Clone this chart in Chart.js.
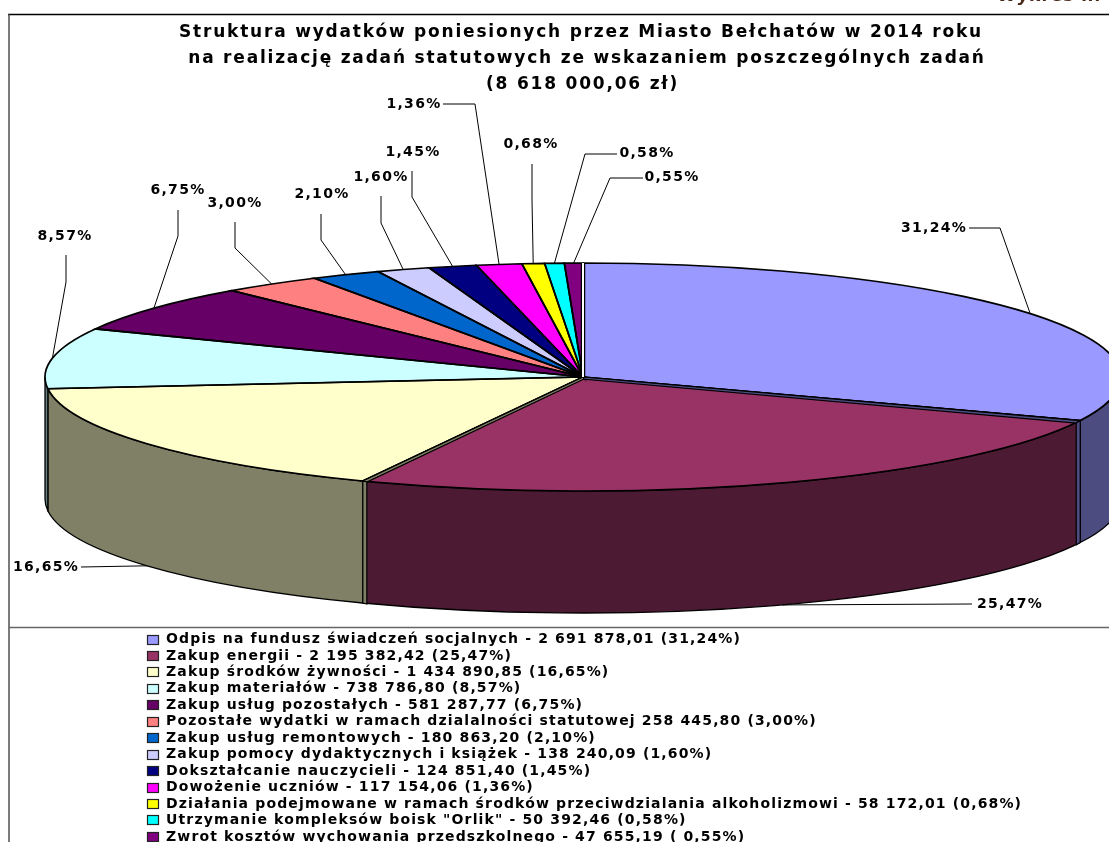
<!DOCTYPE html>
<html><head><meta charset="utf-8">
<style>html,body{margin:0;padding:0;background:#fff;overflow:hidden}canvas{display:block}</style>
<script src="https://cdn.jsdelivr.net/npm/chart.js@4/dist/chart.umd.min.js"></script>
</head><body><div style="width:1109px;height:842px;position:relative"><canvas id="c" width="1109" height="842"></canvas></div>
<script>
const categories=["Odpis na fundusz świadczeń socjalnych","Zakup energii","Zakup środków żywności","Zakup materiałów","Zakup usług pozostałych","Pozostałe wydatki w ramach dzialalności statutowej","Zakup usług remontowych","Zakup pomocy dydaktycznych i książek","Dokształcanie nauczycieli","Dowożenie uczniów","Działania podejmowane w ramach środków przeciwdzialania alkoholizmowi","Utrzymanie kompleksów boisk \"Orlik\"","Zwrot kosztów wychowania przedszkolnego"];
const amounts=[2691878.01,2195382.42,1434890.85,738786.80,581287.77,258445.80,180863.20,138240.09,124851.40,117154.06,58172.01,50392.46,47655.19];
const percentLabels=["31,24%","25,47%","16,65%","8,57%","6,75%","3,00%","2,10%","1,60%","1,45%","1,36%","0,68%","0,58%","0,55%"];
const legendLabels=["Odpis na fundusz świadczeń socjalnych - 2 691 878,01 (31,24%)","Zakup energii - 2 195 382,42 (25,47%)","Zakup środków żywności - 1 434 890,85 (16,65%)","Zakup materiałów - 738 786,80 (8,57%)","Zakup usług pozostałych - 581 287,77 (6,75%)","Pozostałe wydatki w ramach dzialalności statutowej 258 445,80 (3,00%)","Zakup usług remontowych - 180 863,20 (2,10%)","Zakup pomocy dydaktycznych i książek - 138 240,09 (1,60%)","Dokształcanie nauczycieli - 124 851,40 (1,45%)","Dowożenie uczniów - 117 154,06 (1,36%)","Działania podejmowane w ramach środków przeciwdzialania alkoholizmowi - 58 172,01 (0,68%)","Utrzymanie kompleksów boisk \"Orlik\" - 50 392,46 (0,58%)","Zwrot kosztów wychowania przedszkolnego - 47 655,19 ( 0,55%)"];
const titleLines=["Struktura wydatków poniesionych przez Miasto Bełchatów w 2014 roku","na realizację zadań statutowych ze wskazaniem poszczególnych zadań","(8 618 000,06 zł)"];

const colors=["#9999FF","#993366","#FFFFCC","#CCFFFF","#660066","#FF8080","#0066CC","#CCCCFF","#000080","#FF00FF","#FFFF00","#00FFFF","#800080"];
const wallColors=["#4C4C80","#4D1A33","#808066","#668080","#330033","#804040","#003366","#666680","#000040","#800080","#808000","#008080","#400040"];

// layout
const CX=583,CY=377,RA=538,RB=114,DEPTH=122,R=200;
const SX=RA/R,SY=RB/R;
const titleX=[581,587,582.5];
// label centre and leader bend points, in page pixels
const labelLayout=[
 {x:934,y:228,via:[[969,228],[1000,228]]},
 {x:1010,y:604,via:[[972,604]],wall:true},
 {x:46,y:567,via:[[81,567]],wall:true},
 {x:65,y:236,via:[[66,255],[66,282]]},
 {x:178,y:190,via:[[178,210],[178,236]]},
 {x:235,y:203,via:[[235,222],[235,248]]},
 {x:322,y:194,via:[[321,214],[321,240]]},
 {x:381,y:177,via:[[381,196],[381,223]]},
 {x:413,y:152,via:[[412,171],[412,197]]},
 {x:414,y:104,via:[[443,104],[475,104]]},
 {x:531,y:144,via:[[532,164],[532,200]]},
 {x:647,y:153,via:[[617,154],[585,154]]},
 {x:672,y:177,via:[[643,178],[610,178]]}
];
const FF='"DejaVu Sans"';
function txt(ctx,s,x,y,font,color,align,spacing){
  ctx.font=font;ctx.fillStyle=color;ctx.textAlign=align;ctx.textBaseline='middle';
  ctx.letterSpacing=spacing||'0px';ctx.fillText(s,x,y);ctx.letterSpacing='0px';
}
// thin side face showing between two slices: rim-end angle t, colour from slice i
function gapFace(ctx,t,i,dx,dy,cdx,cdy){
  const px=CX+RA*Math.cos(t),py=CY+RB*Math.sin(t);
  ctx.beginPath();ctx.moveTo(CX,CY);ctx.lineTo(px,py);ctx.lineTo(px+dx,py+dy);ctx.lineTo(CX+cdx,CY+cdy);ctx.closePath();
  ctx.fillStyle=wallColors[i];ctx.fill();ctx.lineWidth=1.2;ctx.strokeStyle='#000';ctx.stroke();
  ctx.beginPath();ctx.moveTo(px,py);ctx.lineTo(px+dx,py+dy);ctx.lineTo(px+dx,py+dy+DEPTH);ctx.lineTo(px,py+DEPTH);ctx.closePath();
  ctx.fill();ctx.stroke();
}

const pie3d={
 id:'pie3d',
 beforeDatasetsDraw(chart){
  const {ctx}=chart;const meta=chart.getDatasetMeta(0);
  ctx.save();
  meta.data.forEach((e,i)=>{
    let a=Math.max(e.startAngle,0),b=Math.min(e.endAngle,Math.PI);
    if(e.startAngle>=Math.PI||b<=a)return;
    ctx.beginPath();
    ctx.ellipse(CX,CY,RA,RB,0,a,b,false);
    ctx.lineTo(CX+RA*Math.cos(b),CY+RB*Math.sin(b)+DEPTH);
    ctx.ellipse(CX,CY+DEPTH,RA,RB,0,b,a,true);
    ctx.closePath();
    ctx.fillStyle=wallColors[i];ctx.fill();
    ctx.lineWidth=1.3;ctx.strokeStyle='#000';ctx.stroke();
  });
  ctx.restore();
  ctx.save();
  ctx.translate(CX,CY);ctx.scale(SX,SY);ctx.translate(-CX,-CY);
 },
 afterDatasetsDraw(chart){
  const {ctx}=chart;const meta=chart.getDatasetMeta(0);
  ctx.restore();
  ctx.save();
  meta.data.forEach((e,i)=>{
    ctx.beginPath();
    ctx.moveTo(CX,CY);
    ctx.ellipse(CX,CY,RA,RB,0,e.startAngle,e.endAngle,false);
    ctx.closePath();
    ctx.lineWidth=1.7;ctx.strokeStyle='#000';ctx.stroke();
  });
  // thin side faces between the separated slices
  const d=meta.data;
  gapFace(ctx,d[0].endAngle,0,-4,2.5,-1,2);
  gapFace(ctx,d[1].endAngle,2,4,1,1,2);
  // gap at the start of the first slice
  const s=d[0].startAngle;
  const tx=CX+RA*Math.cos(s),ty=CY+RB*Math.sin(s);
  ctx.beginPath();ctx.moveTo(CX,CY);ctx.lineTo(tx,ty);
  ctx.lineWidth=4.5;ctx.strokeStyle='#000';ctx.stroke();
  ctx.lineWidth=2;ctx.strokeStyle='#fff';ctx.stroke();
  // leaders + labels
  meta.data.forEach((e,i)=>{
    const l=labelLayout[i],m=(e.startAngle+e.endAngle)/2;
    const ax=CX+RA*Math.cos(m),ay=CY+RB*Math.sin(m)+(l.wall?DEPTH:0);
    ctx.beginPath();
    l.via.forEach((p,k)=>k?ctx.lineTo(p[0],p[1]):ctx.moveTo(p[0],p[1]));
    ctx.lineTo(ax,ay);
    ctx.lineWidth=1;ctx.strokeStyle='#000';ctx.stroke();
    txt(ctx,percentLabels[i],l.x,l.y,'bold 14px '+FF,'#000','center','1.3px');
  });
  ctx.restore();
 },
 afterDraw(chart){
  const {ctx}=chart;
  ctx.save();
  // frame
  ctx.strokeStyle='#000';ctx.lineWidth=1.6;
  ctx.beginPath();ctx.moveTo(8,14.5);ctx.lineTo(1109,14.5);ctx.stroke();
  ctx.strokeStyle='#444';ctx.lineWidth=1.4;
  ctx.beginPath();ctx.moveTo(9,14);ctx.lineTo(9,842);ctx.stroke();
  ctx.strokeStyle='#666';
  ctx.beginPath();ctx.moveTo(9,627.5);ctx.lineTo(1109,627.5);ctx.stroke();
  // clipped caption
  txt(ctx,'Wykres nr',998,-3,'italic bold 17px '+FF,'#4a2a1a','left','1px');
  // title
  titleLines.forEach((s,i)=>txt(ctx,s,titleX[i],33+i*26,'bold 17px '+FF,'#000','center','1.8px'));
  // legend
  legendLabels.forEach((s,i)=>{
    const y=639.5+i*16.45,ty=Math.round(y);
    ctx.fillStyle=colors[i];ctx.fillRect(147.5,ty-4.5,11,9);
    ctx.strokeStyle='#222';ctx.lineWidth=1.2;ctx.strokeRect(147.5,ty-4.5,11,9);
    txt(ctx,s,166,y,'bold 14px '+FF,'#000','left','1.15px');
  });
  ctx.restore();
 }
};

new Chart(document.getElementById('c'),{
 type:'pie',
 data:{labels:categories,datasets:[{data:amounts,backgroundColor:colors,borderWidth:0}]},
 options:{
  responsive:false,animation:false,
  layout:{padding:{left:CX-R,right:1109-CX-R,top:CY-R,bottom:842-CY-R}},
  plugins:{legend:{display:false},title:{display:false},tooltip:{enabled:false}}
 },
 plugins:[pie3d]
});
</script></body></html>
